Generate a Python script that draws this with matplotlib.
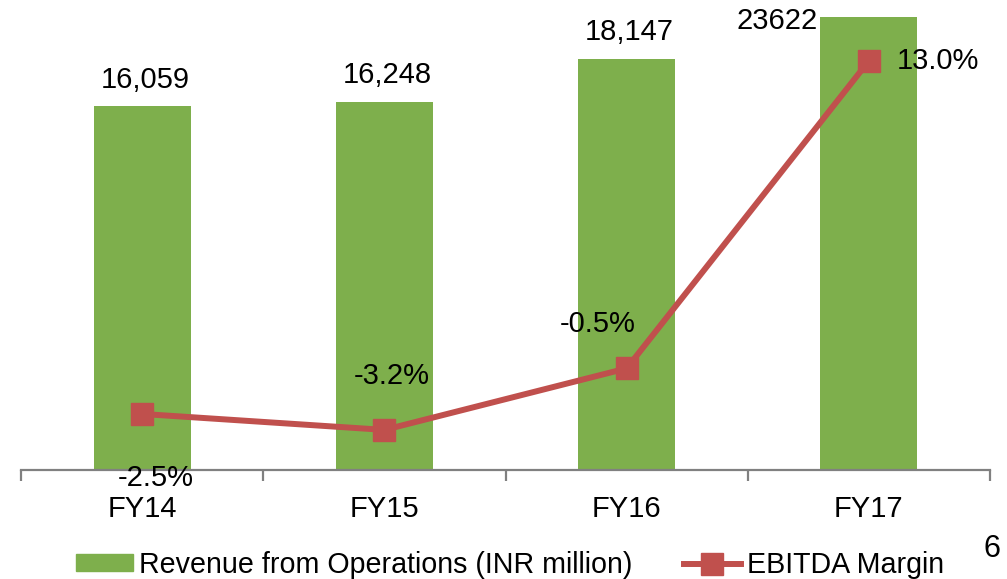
import numpy as np
import matplotlib
matplotlib.use("Agg")
import matplotlib.pyplot as plt
from matplotlib.patches import Patch
from matplotlib.lines import Line2D

plt.rcParams['font.family'] = ['Liberation Sans', 'DejaVu Sans']

years = ["FY14", "FY15", "FY16", "FY17"]
revenue = [16059, 16248, 18147, 20000]          # bar heights as drawn
revenue_labels = ["16,059", "16,248", "18,147", "23622"]
ebitda = [-2.5, -3.2, -0.5, 13.0]
ebitda_labels = ["-2.5%", "-3.2%", "-0.5%", "13.0%"]

green = "#7EAF4C"
red = "#C0504D"
fs = 21

fig = plt.figure(figsize=(10.07, 5.79), dpi=100)
W, H = 1007, 579
ax = fig.add_axes([21 / W, (H - 470) / H, (990 - 21) / W, (470 - 5) / H])
x = np.arange(len(years))

ax.bar(x, revenue, width=0.4, color=green, zorder=2)
ax.set_xlim(-0.5, 3.5)
ax.set_ylim(0, 465 / 0.02266)
for s in ["top", "right", "left"]:
    ax.spines[s].set_visible(False)
ax.spines["bottom"].set_color("#808080")
ax.spines["bottom"].set_linewidth(1.6)
ax.set_yticks([])
ax.set_xticks([-0.5, 0.5, 1.5, 2.5, 3.5])
ax.set_xticklabels([])
ax.tick_params(axis="x", length=8, width=1.6, color="#808080")
for i, yr in enumerate(years):
    ax.annotate(yr, (i, 0), xytext=(0, -28), textcoords="offset points",
                ha="center", va="center", fontsize=fs)

offs = [(2, 19), (2, 19), (2, 19), (-37, -3)]
has = ["center", "center", "center", "right"]
for i, (v, lab) in enumerate(zip(revenue, revenue_labels)):
    ax.annotate(lab, (i, v), xytext=offs[i], textcoords="offset points",
                ha=has[i], va="center", fontsize=fs)

ax2 = ax.twinx()
k2 = 22.78
ax2.set_ylim(-(470 - 357) / k2, (357 - 5) / k2)
for s in ax2.spines.values():
    s.set_visible(False)
ax2.set_yticks([])
ax2.plot(x, ebitda, color=red, lw=4.3, marker="s", markersize=15.5,
         label="EBITDA Margin", zorder=3)

loffs = [(10, -46), (5, 39), (-21, 32), (50, 0)]
for i, (v, lab) in enumerate(zip(ebitda, ebitda_labels)):
    ax2.annotate(lab, (i, v), xytext=loffs[i], textcoords="offset points",
                 ha="center", va="center", fontsize=fs)

handles = [Patch(color=green),
           Line2D([], [], color=red, lw=4.3, marker="s", markersize=15.5)]
fig.legend(handles, ["Revenue from Operations (INR million)", "EBITDA Margin"],
           loc="center", bbox_to_anchor=(510 / W, 1 - 565 / H), ncol=2,
           frameon=False, fontsize=20.6, handlelength=2.0, handletextpad=0.2,
           columnspacing=1.8, handleheight=0.55)

fig.text(992 / W, 1 - 549 / H, "6", ha="center", va="center", fontsize=22)

fig.savefig("out.png", dpi=100)
